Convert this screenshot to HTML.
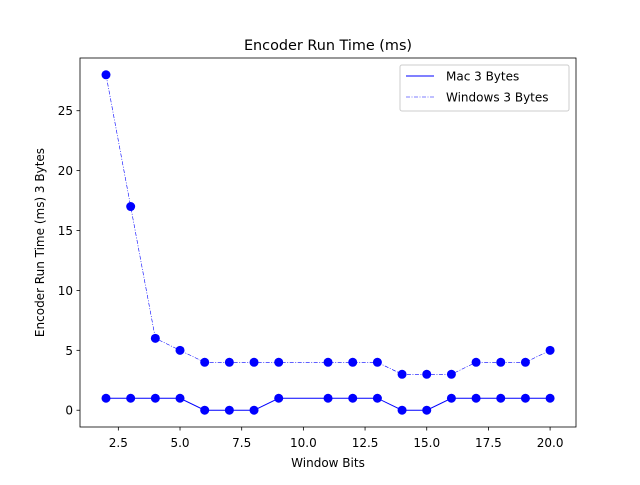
<!DOCTYPE html>
<html><head><meta charset="utf-8"><style>
html,body{margin:0;padding:0;background:#fff;}
svg text{font-family:"DejaVu Sans","Liberation Sans",sans-serif;}
</style></head><body>
<svg id="chart" width="640" height="480" viewBox="0 0 640 480" xmlns="http://www.w3.org/2000/svg">
<rect width="640" height="480" fill="#fff"/>
<text x="328" y="50" font-size="14.4" text-anchor="middle">Encoder Run Time (ms)</text>
<g id="plot"></g>
<text x="328" y="467" font-size="12" text-anchor="middle">Window Bits</text>
<text transform="translate(44,242.5) rotate(-90)" font-size="12" text-anchor="middle">Encoder Run Time (ms) 3 Bytes</text>
<g>
<rect x="400" y="65" width="169" height="46" fill="#fff" stroke="#ccc" rx="2"/>
<line x1="406" y1="76" x2="434" y2="76" stroke="#0000ff" stroke-width="1"/>
<text x="446" y="80.5" font-size="12">Mac 3 Bytes</text>
<line x1="406" y1="97" x2="434" y2="97" stroke="#0000ff" stroke-width="0.6" stroke-dasharray="4,1.5,1,1.5"/>
<text x="446" y="101.5" font-size="12">Windows 3 Bytes</text>
</g>
</svg>
<script>
const xValues=[2,3,4,5,6,7,8,9,11,12,13,14,15,16,17,18,19,20];
const macValues=[1,1,1,1,0,0,0,1,1,1,1,0,0,1,1,1,1,1];
const winValues=[28,17,6,5,4,4,4,4,4,4,4,3,3,3,4,4,4,5];
const xTicks=[2.5,5.0,7.5,10.0,12.5,15.0,17.5,20.0];
const yTicks=[0,5,10,15,20,25];
const L=80,R=576,T=58,B=427,xmin=0.946,xmax=21.05,ymin=-1.4,ymax=29.4;
const sx=v=>L+(v-xmin)/(xmax-xmin)*(R-L);
const sy=v=>B-(v-ymin)/(ymax-ymin)*(B-T);
const NS='http://www.w3.org/2000/svg';
const g=document.getElementById('plot');
function mk(t,a){const e=document.createElementNS(NS,t);for(const k in a)e.setAttribute(k,a[k]);g.appendChild(e);return e;}
xTicks.forEach(v=>{
 const l=mk('line',{x1:sx(v),x2:sx(v),y1:B,y2:B+3.5,stroke:'#000','stroke-width':0.8});
 
 
 const t=mk('text',{x:sx(v),y:B+20,'font-size':12,'text-anchor':'middle'});t.textContent=v.toFixed(1);
 
 
});
yTicks.forEach(v=>{
 const l=mk('line',{x1:L-3.5,x2:L,y1:sy(v),y2:sy(v),stroke:'#000','stroke-width':0.8});
 
 
 const t=mk('text',{x:L-7,y:sy(v)+4.5,'font-size':12,'text-anchor':'end'});t.textContent=v;
 
 
});
function series(vals,name,dash,w){
 const p=mk('polyline',{points:xValues.map((x,i)=>sx(x)+','+sy(vals[i])).join(' '),fill:'none',stroke:'#0000ff','stroke-width':w});
 if(dash)p.setAttribute('stroke-dasharray',dash);
 
 
 xValues.forEach((x,i)=>{
  const c=mk('circle',{cx:sx(x),cy:sy(vals[i]),r:4.5,fill:'#0000ff'});
  
  
 });
}
series(winValues,'windows','4,1.5,1,1.5',0.6);
series(macValues,'mac',null,1);
const fr=mk('rect',{x:L,y:T,width:R-L,height:B-T,fill:'none',stroke:'#000','stroke-width':0.8});


</script>
</body></html>
